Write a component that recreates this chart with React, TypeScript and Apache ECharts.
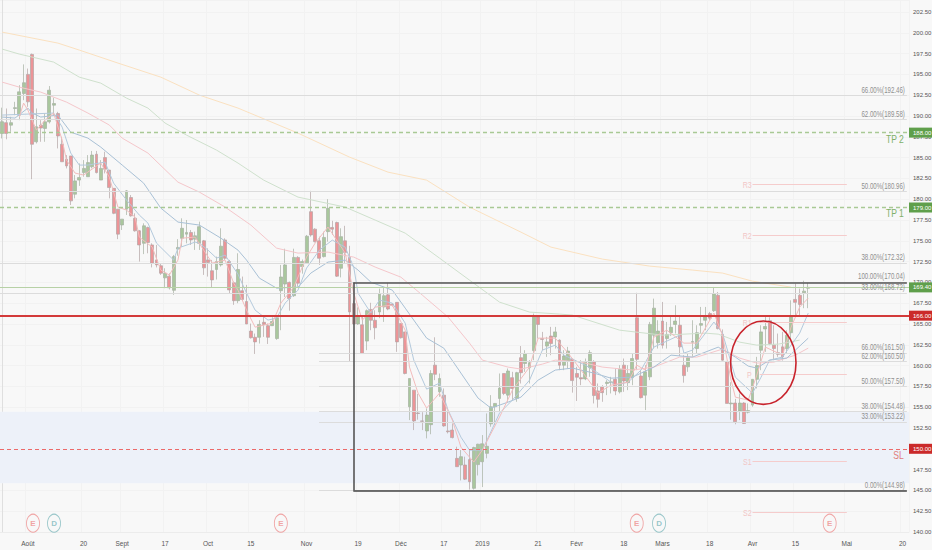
import React, { useEffect, useRef } from "react";
import * as echarts from "echarts";

const FONT = "'Liberation Sans', Arial, sans-serif";

// [open, close, low, high]
const ohlc: number[][] = [
  [187.9,189.31,187.3,191.0],[189.2,187.9,187.2,190.9],[188.9,189.2,188.1,189.9],[190.9,191.0,190.1,191.7],[190.1,192.9,189.5,193.7],
  [192.7,194.0,191.9,196.2],[195.0,191.7,191.1,195.7],[197.4,186.6,182.4,197.5],[186.9,188.7,186.7,190.9],[188.9,188.55,186.9,189.5],
  [188.5,189.3,186.9,190.3],[189.3,193.1,189.1,193.6],[191.3,191.5,190.1,192.2],[190.3,187.6,186.1,190.5],[186.6,184.5,184.5,187.5],
  [184.8,184.0,183.7,185.3],[185.2,179.8,179.3,185.2],[180.6,182.2,180.1,182.9],[182.3,182.6,181.6,184.3],[183.2,183.7,182.7,184.7],
  [182.7,184.4,182.7,185.3],[183.9,185.3,183.7,185.8],[185.4,183.2,183.1,185.8],[182.3,183.7,182.3,184.7],[185.0,183.6,183.1,185.7],
  [183.5,181.4,180.1,183.5],[181.3,178.3,178.2,181.3],[178.8,175.8,175.2,178.8],[176.9,177.6,176.3,177.6],[178.8,181.0,178.1,181.1],
  [180.2,178.0,177.9,180.5],[177.7,176.2,176.1,178.3],[176.2,174.5,172.5,176.3],[174.7,176.8,173.4,177.1],[176.6,174.8,173.5,176.7],
  [174.5,172.3,171.8,174.7],[172.7,172.1,171.8,174.5],[172.0,171.1,170.9,172.3],[170.55,171.1,169.3,171.7],[170.75,169.35,169.15,171.1],
  [169.05,173.1,168.5,173.3],[174.0,174.2,173.2,175.2],[175.3,176.5,174.3,177.7],[175.8,176.0,174.7,177.5],[176.0,175.1,174.5,176.3],
  [175.2,175.6,173.9,176.1],[174.7,176.7,173.9,177.3],[175.0,171.75,170.9,175.1],[172.7,172.4,170.7,174.1],[171.4,170.3,169.4,172.7],
  [171.55,172.5,170.35,173.1],[172.1,174.35,171.9,176.5],[175.1,172.9,172.7,175.3],[172.5,169.1,168.7,172.7],[169.95,167.8,167.3,170.1],
  [167.8,171.55,167.5,173.5],[169.0,167.95,167.8,170.7],[167.7,165.0,165.0,169.7],[164.15,163.35,163.25,165.05],[163.4,162.85,161.4,163.85],
  [163.4,164.95,162.65,165.45],[165.2,164.95,163.45,166.05],[164.8,163.4,162.6,165.05],[164.8,165.3,164.8,165.8],[163.25,165.75,163.1,166.05],
  [169.0,170.65,164.25,172.1],[169.8,172.1,168.25,174.05],[170.0,168.05,166.6,170.1],[168.4,173.0,168.25,174.05],[173.0,169.9,169.5,173.15],
  [171.9,172.5,171.05,172.75],[172.35,175.55,172.25,175.7],[178.5,175.7,175.5,181.0],[176.4,174.9,174.8,176.5],[175.0,172.9,172.1,175.5],
  [173.1,175.4,173.0,176.1],[176.1,178.9,174.9,180.0],[176.6,176.4,175.7,177.4],[177.2,170.75,170.65,177.3],[171.7,175.5,170.6,176.5],
  [175.0,173.6,172.3,176.8],[173.0,166.45,160.45,174.4],[167.45,165.0,164.9,167.8],[165.0,165.9,164.9,167.0],[164.9,161.45,161.4,165.9],
  [162.95,166.6,161.85,166.75],[166.75,165.45,164.25,167.55],[165.45,164.55,163.15,166.65],[166.45,168.65,165.7,169.25],[167.05,168.4,165.25,169.45],
  [168.5,166.8,166.65,170.05],[167.4,167.25,167.1,167.5],[167.6,162.85,161.65,167.6],[165.05,163.35,163.25,165.05],[164.05,159.05,158.95,164.05],
  [155.05,158.45,153.45,158.45],[157.05,153.35,152.25,157.05],[154.3,154.25,153.5,156.6],[153.35,153.3,152.25,154.4],[152.15,154.05,151.25,154.85],
  [152.9,159.05,151.75,159.45],[160.05,158.95,158.25,163.4],[156.85,158.45,156.25,159.05],[156.45,152.75,152.65,157.25],[152.15,152.05,151.85,154.45],
  [152.25,151.35,151.25,153.05],[148.85,147.85,147.85,150.25],[148.05,149.05,146.2,149.85],[148.05,146.35,146.25,149.05],[148.7,146.05,145.1,149.85],
  [145.25,150.15,145.1,150.25],[148.1,150.55,146.8,150.6],[148.45,150.6,145.4,151.65],[149.45,150.3,148.85,154.25],[153.0,155.05,152.65,156.45],
  [155.05,155.45,152.85,155.5],[156.05,157.3,154.45,159.05],[159.05,156.65,156.45,159.05],[156.45,159.35,155.65,159.65],[158.55,157.25,155.85,159.25],
  [156.05,159.15,155.65,159.25],[160.95,159.15,157.85,162.35],[160.25,161.45,159.25,161.85],[159.75,160.35,157.85,160.65],[161.8,165.95,160.65,166.25],
  [165.85,164.95,163.25,166.05],[163.25,163.15,161.85,164.05],[162.35,162.85,161.05,163.45],[163.55,162.65,161.25,164.65],[163.45,164.05,162.05,164.65],
  [163.05,160.05,159.45,163.15],[160.05,161.15,159.45,161.85],[160.55,161.75,159.65,162.25],[160.75,158.2,156.75,160.85],[159.05,158.6,155.75,159.85],
  [158.55,158.4,157.65,160.65],[158.4,160.45,158.25,160.85],[159.75,161.55,158.65,161.85],[160.45,156.4,155.45,160.65],[156.95,155.95,154.95,157.85],
  [157.45,156.75,155.65,157.65],[157.85,158.0,156.45,158.25],[157.95,158.05,156.65,158.65],[158.35,156.95,156.45,159.65],[156.85,159.55,156.65,160.05],
  [160.05,158.15,156.85,160.85],[157.95,159.05,157.05,160.05],[158.55,160.85,157.65,161.45],[165.75,160.75,159.45,168.75],[158.75,156.15,156.05,159.45],
  [156.45,159.25,154.65,160.05],[158.65,164.95,158.25,165.25],[163.65,166.9,162.05,168.05],[162.75,164.15,162.05,165.45],[165.35,162.45,162.05,167.65],
  [163.25,163.75,162.05,165.25],[163.95,164.6,163.55,165.85],[164.95,165.35,163.85,167.25],[164.85,162.25,161.15,165.85],[160.05,158.8,157.95,161.25],
  [159.85,160.95,159.25,161.45],[162.8,162.9,161.05,165.45],[162.05,163.95,161.45,164.85],[164.85,165.05,163.85,167.05],[165.45,165.85,164.25,167.05],
  [166.25,165.7,165.45,166.45],[166.6,168.65,166.45,169.45],[168.45,164.45,164.35,168.85],[163.75,160.65,160.6,164.35],[160.45,155.45,155.45,160.45],
  [155.4,155.5,153.5,158.0],[155.5,153.25,152.95,156.0],[154.55,155.5,153.45,156.65],[155.5,153.05,153.0,155.6],[154.4,154.6,154.25,155.45],
  [155.25,158.35,155.05,158.35],[158.35,160.0,157.25,161.05],[161.85,164.05,159.45,164.85],[164.4,164.7,161.65,166.05],[165.4,162.65,162.45,165.8],
  [162.45,162.05,160.65,164.85],[161.55,161.35,161.05,163.85],[162.25,161.05,160.6,164.05],[162.05,163.65,161.45,164.25],[163.95,165.85,163.05,167.85],
  [167.95,167.6,166.05,169.85],[168.45,167.35,166.05,169.25],[168.75,168.95,166.9,170.2],[169.3,169.4,166.9,170.0],
];

// Moving averages: [bar index, price]
const emaOrange = [[0,200.08],[13,198.76],[18,197.92],[27,196.36],[37,194.67],[46,192.51],[55,190.95],[69,187.94],[81,185.06],[90,183.25],[99,182.29],[109,179.05],[121,176.04],[128,174.24],[140,172.8],[151,171.96],[161,171.48],[168,171.12],[175,170.15],[184,169.43]];
const emaGreen = [[0,198.04],[4,197.44],[12,196.48],[18,194.67],[23,193.95],[29,192.15],[34,190.95],[38,189.15],[43,187.7],[50,185.9],[55,184.34],[61,182.29],[69,180.25],[80,179.05],[87,177.49],[94,175.92],[102,172.92],[109,170.27],[116,167.63],[123,166.43],[130,166.19],[133,166.07],[144,164.26],[154,163.66],[164,163.9],[167,163.78],[172,162.82],[176,162.46],[181,162.58],[186,163.06]];
const emaPink = [[0,194.07],[4,193.47],[9,192.87],[15,191.67],[20,190.35],[25,188.91],[28,187.34],[34,185.54],[41,182.05],[46,180.85],[52,179.05],[58,176.89],[64,174.12],[69,173.52],[76,173.64],[82,173.04],[87,171.84],[93,170.63],[98,168.47],[104,165.83],[109,162.7],[112,160.66],[118,159.82],[121,159.58],[126,160.18],[129,160.66],[135,160.42],[140,159.82],[147,159.46],[152,159.82],[158,161.02],[162,161.02],[168,161.98],[172,160.9],[176,160.3],[180,160.42],[185,161.26],[188,162.1]];
const emaBlue = [[0,189.87],[3,189.75],[6,190.95],[7,190.35],[9,189.87],[13,190.11],[16,188.06],[20,187.34],[23,186.26],[28,184.1],[33,181.93],[37,178.93],[41,177.25],[46,176.89],[51,175.32],[55,173.88],[57,172.68],[60,170.51],[64,169.31],[69,169.43],[72,171.12],[76,172.44],[80,172.68],[83,171.48],[86,170.03],[91,169.07],[94,166.91],[99,163.3],[103,162.1],[107,159.1],[111,156.09],[114,154.89],[118,155.61],[121,156.21],[125,158.25],[129,159.46],[133,159.7],[138,159.1],[142,158.49],[147,158.61],[152,159.82],[156,161.26],[161,161.02],[167,162.22],[171,161.02],[174,159.94],[176,159.7],[179,160.66],[183,160.9],[188,163.3]];
const emaFastBlue = [[0,190.11],[12,190.35],[14,188.66],[16,185.54],[18,184.1],[20,184.1],[24,184.46],[26,181.93],[29,179.9],[32,178.09],[34,177.13],[36,174.72],[40,172.68],[41,174.12],[45,174.84],[46,174.72],[48,173.88],[50,172.92],[52,173.28],[55,170.99],[57,168.71],[59,166.67],[62,165.47],[64,165.71],[66,167.51],[69,169.07],[71,171.72],[74,173.88],[77,175.08],[80,174.24],[82,171.84],[83,168.71],[86,166.31],[88,167.87],[91,167.51],[94,165.1],[96,160.66],[99,157.17],[102,157.89],[104,154.65],[107,151.4],[109,149.84],[112,149.84],[116,154.29],[119,155.85],[123,158.25],[126,161.86],[129,162.46],[131,161.26],[136,160.06],[139,159.1],[143,157.65],[146,158.01],[149,159.46],[152,162.22],[158,163.66],[159,161.5],[161,161.86],[166,165.23],[168,163.9],[171,158.61],[175,156.69],[177,158.61],[179,160.66],[182,161.02],[186,163.9],[188,166.31]];
const emaFastPink = [[4,189.87],[5,191.55],[6,190.71],[8,188.3],[10,189.5],[12,190.35],[14,187.1],[15,184.7],[17,183.14],[19,182.9],[23,184.34],[25,182.65],[27,179.05],[29,178.69],[31,177.85],[32,175.44],[35,174.24],[37,171.48],[39,170.88],[41,172.68],[42,175.32],[45,175.44],[47,173.88],[49,172.32],[52,172.68],[54,169.91],[55,169.07],[57,166.67],[59,164.62],[63,165.1],[65,167.51],[68,169.43],[71,173.04],[73,174.72],[76,176.65],[80,173.52],[82,168.71],[84,165.47],[87,167.03],[91,167.27],[94,164.26],[95,159.82],[97,156.69],[99,154.89],[102,156.69],[105,153.45],[107,150.2],[110,148.4],[112,149.84],[116,153.81],[119,157.05],[123,159.82],[125,163.3],[129,163.3],[132,161.5],[135,159.46],[139,156.69],[142,157.65],[146,158.01],[148,160.06],[150,159.46],[152,163.42],[155,164.26],[159,162.7],[162,162.7],[166,166.31],[168,163.66],[170,158.25],[171,156.21],[174,155.85],[176,158.85],[178,162.22],[182,161.26],[184,164.62],[186,167.03],[188,168.11]];

// Bar index of each time-axis label
const timeLabels: [number, string][] = [[6,"Août"],[19,"20"],[28,"Sept"],[38,"17"],[48,"Oct"],[58,"15"],[71,"Nov"],[83,"19"],[93,"Déc"],[103,"17"],[112,"2019"],[125,"21"],[134,"Févr"],[145,"18"],[154,"Mars"],[165,"18"],[175,"Avr"],[185,"15"],[197,"Mai"],[210,"20"]];
const BAR_SLOTS = 212;

const fibFromStart: [number, string][] = [[192.46,"66.00%(192.46)"],[189.58,"62.00%(189.58)"],[180.96,"50.00%(180.96)"],[172.32,"38.00%(172.32)"],[168.72,"33.00%(168.72)"]];
const fibFromBar: [number, string][] = [[170.04,"100.00%(170.04)"],[161.5,"66.00%(161.50)"],[160.5,"62.00%(160.50)"],[157.5,"50.00%(157.50)"],[154.48,"38.00%(154.48)"],[153.22,"33.00%(153.22)"],[144.98,"0.00%(144.98)"]];
const pivots: [number, string, number][] = [[181.77,"R3",175],[175.62,"R2",175],[165.19,"R1",176.7],[158.94,"P",176.7],[148.55,"S1",175],[142.35,"S2",175]];
const targets: [number, string, string][] = [[188,"TP 2","#7fb069"],[179,"TP 1","#7fb069"],[150,"SL","#e07a7a"]];
const earnings = [7.2, 65, 148, 193];
const dividends = [12.1, 153.2];
const EVENT_Y = 141.06;

const ZONE_TOP = 154.45;
const ZONE_BOTTOM = 145.85;
const BOX_TOP = 170;
const BOX_BOTTOM = 145;
const BOX_LEFT = 81.9;
const FIB_LEFT = 73.9;

const GREEN = "#5f9f4b";
const RED = "#cb2a2a";

function tag(text: string, color: string) {
  return { show: true, position: "end", distance: 0, formatter: text, color: "#fff", backgroundColor: color, padding: [2, 2, 2, 4], fontSize: 6, fontFamily: FONT };
}
function seg(x0: number, x1: number, v: number, lineStyle: any, label?: any) {
  return [
    { coord: [x0, v], lineStyle, label: label || { show: false } },
    { coord: [x1, v] },
  ];
}
function maSeries(data: number[][], color: string, width = 1) {
  return { type: "line", data, showSymbol: false, symbol: "none", silent: true, lineStyle: { color, width }, z: 3 };
}

export default function App() {
  const ref = useRef<HTMLDivElement>(null);
  useEffect(() => {
    document.body.style.margin = "0";
    const chart = echarts.init(ref.current!, undefined, { renderer: "svg" });
    const XMAX = BAR_SLOTS - 0.5;
    const fibStyle = { color: "#dcdcdc", width: 1.2, type: "solid" };
    const pivotStyle = { color: "#f5cccc", width: 1, type: "solid" };
    const lines: any[] = [
      ...fibFromStart.map(([v]) => seg(-0.5, 211, v, fibStyle)),
      ...fibFromBar.map(([v]) => seg(FIB_LEFT, 211, v, fibStyle)),
      ...pivots.map(([v, , x0]) => seg(x0, 197, v, pivotStyle)),
      seg(-0.5, XMAX, 169.4, { color: "#b7d1a6", width: 1, type: "solid" }, tag("169.40", GREEN)),
      seg(-0.5, XMAX, 188, { color: "#a9c995", width: 1.3, type: [4, 3] }, tag("188.00", GREEN)),
      seg(-0.5, XMAX, 179, { color: "#a9c995", width: 1.3, type: [4, 3] }, tag("179.00", GREEN)),
      seg(-0.5, XMAX, 150, { color: "#ec6a6a", width: 1, type: [4, 3] }, tag("150.00", RED)),
      seg(-0.5, XMAX, 166, { color: "#d33a3a", width: 2, type: "solid" }, tag("166.00", RED)),
      seg(BOX_LEFT, 211, BOX_TOP, { color: "#555", width: 1.6, type: "solid" }),
      seg(BOX_LEFT, 211, BOX_BOTTOM, { color: "#444", width: 1.6, type: "solid" }),
      [
        { coord: [BOX_LEFT, BOX_TOP], lineStyle: { color: "#555", width: 1.6, type: "solid" }, label: { show: false } },
        { coord: [BOX_LEFT, BOX_BOTTOM] },
      ],
    ];
    const eventSeries = (xs: number[], letter: string, color: string) => ({
      type: "scatter",
      xAxisIndex: 1,
      data: xs.map((x) => [x, EVENT_Y]),
      symbol: "circle",
      symbolSize: [13, 18],
      silent: true,
      itemStyle: { color: "#f8f8f8", borderColor: color, borderWidth: 1 },
      label: { show: true, position: "inside", formatter: letter, color, fontSize: 8, fontWeight: "bold", fontFamily: FONT },
      z: 6,
    });
    chart.setOption({
      animation: false,
      backgroundColor: "#f8f8f8",
      textStyle: { fontFamily: FONT },
      grid: { left: 0, right: 23, top: 0, bottom: 18, outerBoundsMode: "none" },
      xAxis: [
        {
          type: "category",
          data: Array.from({ length: BAR_SLOTS }, (_, i) => {
            const hit = timeLabels.find((t) => t[0] === i);
            return hit ? hit[1] : "";
          }),
          boundaryGap: true,
          axisLine: { lineStyle: { color: "#ececec" } },
          axisTick: { show: false },
          axisLabel: {
            interval: (i: number) => timeLabels.some((t) => t[0] === i),
            color: "#555",
            fontSize: 6.5,
            margin: 8,
            hideOverlap: false,
            fontFamily: FONT,
          },
          splitLine: {
            show: true,
            interval: (i: number) => timeLabels.some((t) => t[0] === i),
            lineStyle: { color: "#f2f2f2" },
          },
        },
        { type: "value", min: -0.5, max: XMAX, show: false },
      ],
      yAxis: {
        type: "value",
        position: "right",
        min: 140,
        max: 203.94,
        interval: 2.5,
        axisLine: { show: true, lineStyle: { color: "#dfdfdf" } },
        axisTick: { show: false },
        axisLabel: { color: "#555", fontSize: 6, margin: 4, showMaxLabel: false, fontFamily: FONT, formatter: (v: number) => v.toFixed(2) },
        splitLine: { show: true, lineStyle: { color: "#f2f2f2" } },
      },
      series: [
        {
          type: "line",
          xAxisIndex: 1,
          data: [],
          silent: true,
          z: 1,
          markArea: {
            silent: true,
            itemStyle: { color: "#edf1f9" },
            data: [[{ coord: [-0.5, ZONE_TOP] }, { coord: [XMAX, ZONE_BOTTOM] }]],
          },
        },
        {
          type: "candlestick",
          data: ohlc,
          barWidth: 3.4,
          silent: true,
          z: 2,
          itemStyle: { color: "#a9c79d", color0: "#ec9497", borderColor: "#a6b0a2", borderColor0: "#b3a5a5", borderWidth: 0.7 },
        },
        maSeries(emaOrange, "#fbe1c0", 1),
        maSeries(emaGreen, "#cfe1cd", 1),
        maSeries(emaPink, "#f5c7cb", 1),
        maSeries(emaBlue, "#a9c1d6", 1),
        maSeries(emaFastBlue, "#b3c9dc", 1),
        maSeries(emaFastPink, "#f3bcbc", 1),
        {
          type: "line",
          xAxisIndex: 1,
          data: [],
          silent: true,
          z: 4,
          markLine: { silent: true, symbol: "none", animation: false, data: lines },
        },
        eventSeries(earnings, "E", "#ee8e8e"),
        eventSeries(dividends, "D", "#7fb9bd"),
      ],
    });

    // Annotation texts squeezed sideways like the reference; positions come from the chart's scales.
    const px = (x: number, v: number) => chart.convertToPixel({ xAxisIndex: 1, yAxisIndex: 0 }, [x, v]) as number[];
    const squeezed = (x: number, y: number, text: string, fill: string, size: number, sx: number, vAlign: string) => ({
      type: "text",
      x,
      y,
      scaleX: sx,
      z: 8,
      silent: true,
      style: { text, fill, font: `${size}px ${FONT}`, textAlign: "right", textVerticalAlign: vAlign },
    });
    const endX = px(211, 150)[0] - 2;
    const texts: any[] = [
      ...[...fibFromStart, ...fibFromBar].map(([v, t]) => squeezed(endX, px(0, v)[1] - 1, t, "#8f8f8f", 8.5, 0.72, "bottom")),
      ...pivots.map(([v, t]) => squeezed(px(174.8, v)[0], px(0, v)[1] + 1, t, "#f2c6c6", 9, 0.78, "middle")),
      ...targets.map(([v, t, c]) => squeezed(endX - 1, px(0, v)[1] + 6, t, c, 11, 0.78, "middle")),
    ];
    chart.setOption({
      graphic: [
        ...texts,
        {
          type: "ellipse",
          shape: { cx: 763.3, cy: 362.7, rx: 32.7, ry: 41.7 },
          style: { fill: "none", stroke: "#c8232c", lineWidth: 1.6 },
          z: 10,
        },
      ],
    });
    return () => chart.dispose();
  }, []);
  return <div ref={ref} style={{ position: "fixed", left: 0, top: 0, width: 932, height: 550 }} />;
}
